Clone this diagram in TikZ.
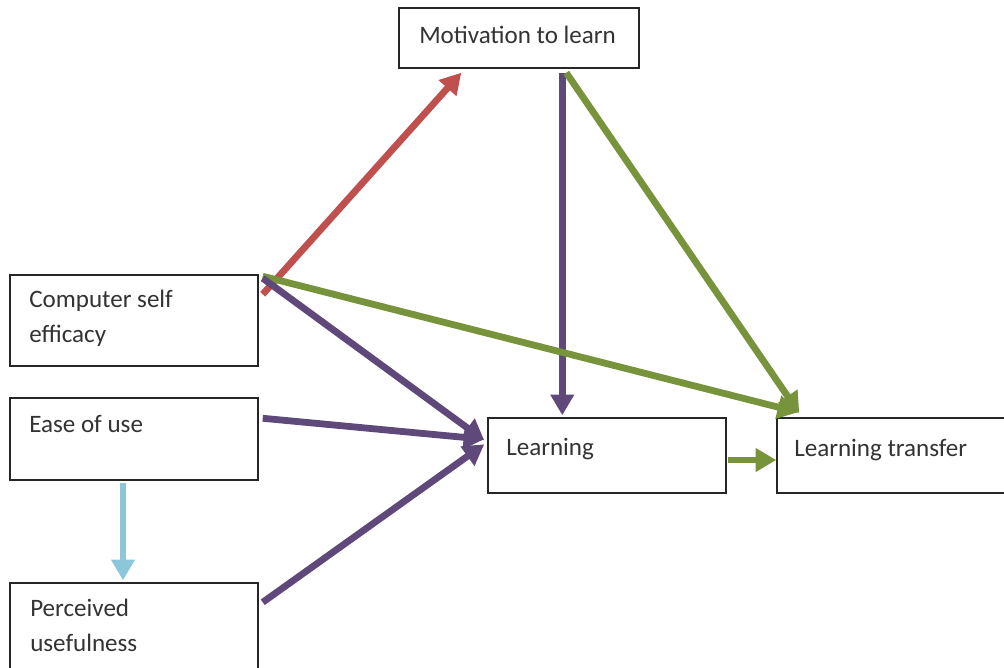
\documentclass[tikz,border=0pt]{standalone}
\usepackage{fontspec}
\setmainfont{Carlito}
\usetikzlibrary{arrows.meta,calc}
\definecolor{cred}{HTML}{C0504D}
\definecolor{cpurple}{HTML}{5F497A}
\definecolor{cgreen}{HTML}{77933C}
\definecolor{cblue}{HTML}{8CC6D9}
\definecolor{cline}{HTML}{262626}
\definecolor{ctext}{HTML}{333333}
\begin{document}
\begin{tikzpicture}[x=0.75pt,y=-0.75pt,
  box/.style={draw=cline, line width=1.1pt, fill=white, inner sep=0pt},
  lbl/.style={anchor=base west, inner sep=0pt, text=ctext, font=\fontsize{18.8}{26}\selectfont, align=left},
  conn/.style={line width=5.1pt, -{Triangle[length=15.5pt,width=17pt]}}
]
\useasboundingbox (0,0) rectangle (1004,668);
% boxes
\node[box, minimum width=180pt, minimum height=45pt] (mot) at (519,38) {};
\node[box, minimum width=186pt, minimum height=68.25pt] (cse) at (134,320.5) {};
\node[box, minimum width=186pt, minimum height=61.5pt] (ease) at (134,439) {};
\node[box, minimum width=186pt, minimum height=80.25pt] (perc) at (134,636.5) {};
\node[box, minimum width=178.5pt, minimum height=56.25pt] (learn) at (607,455.5) {};
\node[box, minimum width=174.75pt, minimum height=56.25pt] (lt) at (893.5,455.5) {};
% labels (base = baseline of last line)
\node[lbl] (tmot) at (419,43) {Motivation to learn};
\node[lbl] (tcse) at (29,342) {Computer self\\efficacy};
\node[lbl] (tease) at (29,432) {Ease of use};
\node[lbl] (tperc) at (30,651) {Perceived\\usefulness};
\node[lbl] (tlearn) at (506,455) {Learning};
\node[lbl] (tlt) at (794,456) {Learning transfer};
% connectors
\draw[conn, cred] ($(cse.north east)+(4,20)$) -- ($(mot.south west)+(63,4)$);
\draw[conn, cpurple] ($(mot.south west)+(164,4)$) -- ($(learn.north west)+(75,-2)$);
\draw[conn, cgreen] ($(mot.south west)+(168,4)$) -- ($(lt.north west)+(23,-4)$);
\draw[conn, cgreen] ($(cse.north east)+(4,2)$) -- ($(lt.north west)+(22,-5)$);
\draw[conn, cpurple] ($(cse.north east)+(4,4)$) -- ($(learn.north west)+(-3,23)$);
\draw[conn, cpurple] ($(ease.north east)+(4,21)$) -- ($(learn.north west)+(-3,22)$);
\draw[conn, cpurple] ($(perc.north east)+(4,20)$) -- ($(learn.north west)+(-3,27)$);
\draw[conn, cgreen] ($(learn.east)+(1,4.5)$) -- ($(lt.west)+(0,4.5)$);
\draw[conn, cblue] ($(ease.south)+(-11,2)$) -- ($(perc.north)+(-11,-2)$);
\end{tikzpicture}
\end{document}
